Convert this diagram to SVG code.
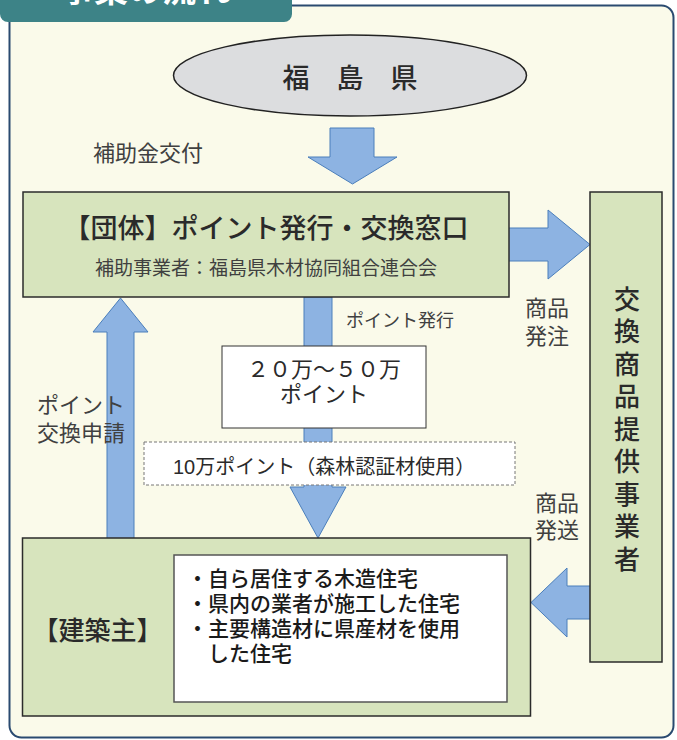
<svg xmlns="http://www.w3.org/2000/svg" width="677" height="740" viewBox="0 0 677 740">
<style>
text{font-family:"Liberation Sans","Noto Sans CJK JP","Noto Sans CJK SC",sans-serif;fill:#2a2a2a}
.box{fill:#d7e4bd;stroke:#2b2b2b;stroke-width:1.5}
.arrow{fill:#8db3e2;stroke:#4a7ebb;stroke-width:1}
.lbl{fill:#404040}
.mid{text-anchor:middle}
.b{font-weight:500}
</style>
<rect x="9.5" y="5.5" width="664" height="732" rx="12" fill="#fafaea" stroke="#2a4a70" stroke-width="2"/>
<g id="tab">
<path d="M-5,-10 H292 V14 a8,8 0 0 1 -8,8 H8 a8,8 0 0 1 -8,-8 Z" fill="#3d8387"/>
<text x="60" y="2" font-size="34" font-weight="bold" style="fill:#ffffff">事業の流れ</text>
</g>
<g id="connectors">
<polygon class="arrow" points="330,128 374,128 374,157 397,157 352.5,184 308,157 330,157"/>
<polygon class="arrow" points="505,228 548,228 548,210 590,244.5 548,279 548,261 505,261"/>
<polygon class="arrow" points="304,297 332,297 332,487 346,487 318,538 290,487 304,487"/>
<polygon class="arrow" points="107,540 107,332 93,332 120.5,298 148,332 134,332 134,540"/>
<polygon class="arrow" points="592,586 567,586 567,568 531,602.5 567,637 567,619 592,619"/>
</g>
<g id="fukushima">
<ellipse cx="350" cy="75.5" rx="176.5" ry="40.5" fill="#dcdddf" stroke="#222" stroke-width="1.5"/>
<text class="mid b" x="350" y="88" font-size="27">福　島　県</text>
</g>
<g id="dantai">
<rect class="box" x="23" y="192" width="486" height="105"/>
<text class="mid b" x="266" y="238" font-size="27">【団体】ポイント発行・交換窓口</text>
<text class="mid lbl" x="266" y="275" font-size="19">補助事業者：福島県木材協同組合連合会</text>
</g>
<g id="provider">
<rect class="box" x="590" y="192" width="72" height="470"/>
<text class="mid b" font-size="26">
<tspan x="627" y="308.5">交</tspan><tspan x="627" y="341">換</tspan><tspan x="627" y="373.5">商</tspan><tspan x="627" y="406">品</tspan><tspan x="627" y="438.5">提</tspan><tspan x="627" y="471">供</tspan><tspan x="627" y="503.5">事</tspan><tspan x="627" y="536">業</tspan><tspan x="627" y="568.5">者</tspan>
</text>
</g>
<g id="points">
<rect x="222" y="346" width="204" height="82" fill="#ffffff" stroke="#333" stroke-width="1"/>
<text class="mid" x="324" y="377" font-size="22">２０万～５０万</text>
<text class="mid" x="324" y="402" font-size="22">ポイント</text>
</g>
<g id="bonus">
<rect x="144" y="442" width="371" height="43" fill="#ffffff" stroke="#777" stroke-width="1" stroke-dasharray="3 2"/>
<text x="173" y="474" font-size="20">10万ポイント（森林認証材使用）</text>
</g>
<g id="owner">
<rect class="box" x="22.5" y="538" width="508" height="178"/>
<text class="mid b" x="97.5" y="640" font-size="26">【建築主】</text>
<rect x="174" y="555" width="333" height="147" fill="#ffffff" stroke="#555" stroke-width="1.5"/>
<text class="b" x="187" font-size="21" style="fill:#1a1a1a">
<tspan x="187" y="586">・自ら居住する木造住宅</tspan>
<tspan x="187" y="611">・県内の業者が施工した住宅</tspan>
<tspan x="187" y="636">・主要構造材に県産材を使用</tspan>
<tspan x="208" y="661">した住宅</tspan>
</text>
</g>
<g id="labels">
<text class="lbl" x="93" y="161" font-size="22">補助金交付</text>
<text class="lbl" x="346" y="327" font-size="18">ポイント発行</text>
<text class="lbl" x="37" y="413" font-size="22">ポイント</text>
<text class="lbl" x="37" y="441" font-size="22">交換申請</text>
<text class="lbl" x="525" y="316" font-size="22">商品</text>
<text class="lbl" x="525" y="344" font-size="22">発注</text>
<text class="lbl" x="535" y="511" font-size="22">商品</text>
<text class="lbl" x="535" y="538" font-size="22">発送</text>
</g>
</svg>
